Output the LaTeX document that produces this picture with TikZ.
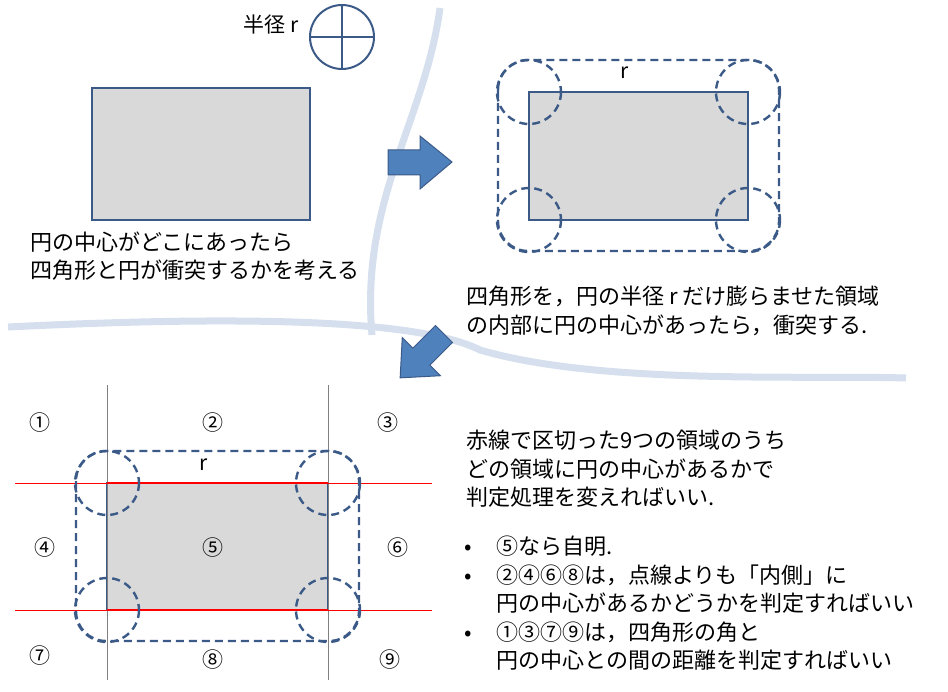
\documentclass[tikz,border=0pt]{standalone}
\usepackage{fontspec}
\setmainfont{Noto Sans CJK JP}
\usetikzlibrary{positioning}
\definecolor{edgeblue}{HTML}{3B5A87}
\definecolor{fillblue}{HTML}{4F81BD}
\definecolor{roadblue}{HTML}{D5DFEE}
\definecolor{boxgray}{HTML}{D9D9D9}
\tikzset{
	area/.style={draw=edgeblue, fill=boxgray, line width=2pt},
	bound/.style={draw=edgeblue, line width=2.4pt, dash pattern=on 8pt off 5pt},
	txt/.style={anchor=west, align=left, font=\fontsize{22}{28.5}\selectfont, inner sep=0pt},
	num/.style={font=\fontsize{21}{22}\selectfont},
	blockarrow/.style={draw=edgeblue, fill=fillblue, line width=1pt}
}
\begin{document}
\begin{tikzpicture}[x=1pt, y=-1pt]
	\useasboundingbox (0,0) rectangle (948,692);

	\draw[roadblue, line width=7pt] (440,8) .. controls (425,120) and (360,200) .. (372,335);
	\draw[roadblue, line width=7pt] (8,327) .. controls (250,315) and (420,320) .. (480,350) .. controls (600,385) and (800,375) .. (906,378);

	\draw[edgeblue, fill=white, line width=2pt] (342,37) circle [radius=32];
	\draw[edgeblue, line width=2pt] (310,37) -- (374,37) (342,5) -- (342,69);
	\node[num, anchor=east] (radius) at (302,25) {半径 r};

	\draw[area] (92,88) rectangle (310,220);
	\node[txt] (question) at (30,256) {円の中心がどこにあったら\\四角形と円が衝突するかを考える};

	\draw[blockarrow] (388,150) -- (420,150) -- (420,136) -- (452,162) -- (420,189) -- (420,175) -- (388,175) -- cycle;

	\draw[area] (529,92) rectangle (748,220);
	\draw[bound, rounded corners=30pt] (498,60) rectangle (779,251);
	\foreach \x/\y in {529/92, 748/92, 529/220, 748/220}
		\draw[bound] (\x,\y) circle [radius=32];
	\node[num] (rtop) at (625,73) {r};
	\node[txt] (answer) at (466,311) {四角形を，円の半径 r だけ膨らませた領域\\の内部に円の中心があったら，衝突する.};

	\begin{scope}[shift={(444,334)}, rotate=-135]
		\draw[blockarrow] (0,-12) -- (32,-12) -- (32,-27) -- (62,0) -- (32,27) -- (32,12) -- (0,12) -- cycle;
	\end{scope}

	\draw[area] (107,483) rectangle (328,610);
	\draw[gray, thin] (107,385) -- (107,680) (328,385) -- (328,680);
	\draw[red, thin] (15,483) -- (432,483) (15,610) -- (432,610);
	\draw[red, line width=2pt] (107,483) -- (328,483) (107,610) -- (328,610);
	\draw[bound, rounded corners=30pt] (76,451) rectangle (359,641);
	\foreach \x/\y in {107/483, 328/483, 107/610, 328/610}
		\draw[bound] (\x,\y) circle [radius=32];
	\node[num] (rbottom) at (204,465) {r};

	\node[num] (z1) at (40,423) {①};
	\node[num] (z2) at (213,423) {②};
	\node[num] (z3) at (388,423) {③};
	\node[num] (z4) at (45,548) {④};
	\node[num] (z5) at (213,548) {⑤};
	\node[num] (z6) at (398,548) {⑥};
	\node[num] (z7) at (40,656) {⑦};
	\node[num] (z8) at (213,660) {⑧};
	\node[num] (z9) at (390,660) {⑨};

	\node[txt] (rule) at (466,469) {赤線で区切った9つの領域のうち\\どの領域に円の中心があるかで\\判定処理を変えればいい.};
	\node[txt, anchor=north west] (cases) at (464,536) {%
		\makebox[32pt][l]{•}⑤なら自明.\\
		\makebox[32pt][l]{•}②④⑥⑧は，点線よりも「内側」に\\
		\makebox[32pt][l]{}円の中心があるかどうかを判定すればいい\\
		\makebox[32pt][l]{•}①③⑦⑨は，四角形の角と\\
		\makebox[32pt][l]{}円の中心との間の距離を判定すればいい};
\end{tikzpicture}
\end{document}
